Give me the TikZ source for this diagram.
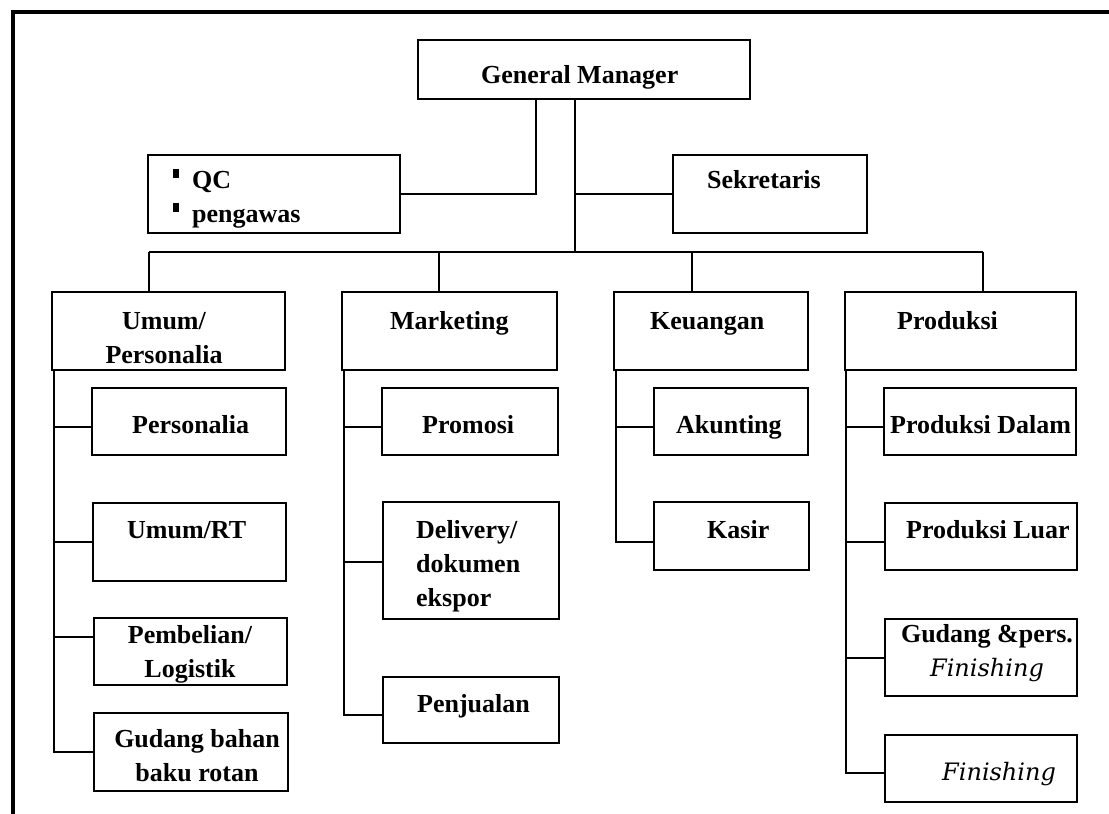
\documentclass[tikz,border=0pt]{standalone}
\usepackage{fontspec}
\setmainfont{Liberation Serif}
\newfontfamily\finfont{DejaVu Serif}
\usepackage{graphicx}
\usetikzlibrary{calc}
\tikzset{
  box/.style={draw, line width=1.8pt, rectangle, inner sep=0pt, outer sep=0pt},
  conn/.style={line width=1.5pt},
  frame/.style={line width=3.5pt},
  txt/.style={anchor=base west, inner sep=0pt, font=\fontsize{26}{34}\selectfont\bfseries},
  ctxt/.style={anchor=base, inner sep=0pt, font=\fontsize{26}{34}\selectfont\bfseries},
  itxt/.style={anchor=base west, inner sep=0pt, font=\fontsize{24}{34}\selectfont\finfont\itshape},
}
\newcommand\bx[5]{\node[box, minimum width={#4-#2}, minimum height={#5-#3}] (#1) at ({(#2+#4)/2},{(#3+#5)/2}) {};}
\newcommand\qcb{\rule[10pt]{6pt}{9pt}\hspace{13pt}}
\begin{document}
\begin{tikzpicture}[x=1pt,y=-1pt]
\useasboundingbox (0,0) rectangle (1109,814);
\fill[white] (0,0) rectangle (1109,814);
\draw[frame] (13,814) -- (13,12) -- (1109,12);
% boxes
\bx{gm}{418}{40}{750}{99}
\bx{qc}{148}{155}{400}{233}
\bx{sek}{673}{155}{867}{233}
\bx{umum}{52}{292}{285}{370}
\bx{mkt}{342}{292}{557}{370}
\bx{keu}{614}{292}{808}{370}
\bx{prod}{845}{292}{1076}{370}
\bx{pers}{92}{388}{286}{455}
\bx{umrt}{93}{503}{286}{581}
\bx{pemb}{94}{618}{287}{685}
\bx{gud}{94}{713}{288}{791}
\bx{prom}{382}{388}{558}{455}
\bx{deliv}{383}{502}{559}{619}
\bx{penj}{383}{677}{559}{743}
\bx{akun}{654}{388}{808}{455}
\bx{kasir}{654}{502}{809}{570}
\bx{pdal}{884}{388}{1076}{455}
\bx{pluar}{885}{503}{1077}{570}
\bx{gpf}{885}{619}{1077}{696}
\bx{fin}{885}{735}{1077}{802}
% texts
\node[txt] (gm-t) at (481,83) {General Manager};
\node[txt] (qc-t) at (173,188) {\begin{tabular}[t]{@{}l@{}}\qcb QC\\\qcb pengawas\end{tabular}};
\node[txt] (sek-t) at (707,188) {Sekretaris};
\node[ctxt] (umum-t) at (164,329) {\begin{tabular}[t]{@{}c@{}}Umum/\\Personalia\end{tabular}};
\node[txt] (mkt-t) at (390,329) {Marketing};
\node[txt] (keu-t) at (650,329) {Keuangan};
\node[txt] (prod-t) at (897,329) {Produksi};
\node[txt] (pers-t) at (132,433) {Personalia};
\node[txt] (prom-t) at (422,433) {Promosi};
\node[txt] (akun-t) at (676,433) {Akunting};
\node[txt] (pdal-t) at (890,433) {Produksi Dalam};
\node[txt] (umrt-t) at (127,538) {Umum/RT};
\node[txt] (deliv-t) at (416,538) {\begin{tabular}[t]{@{}l@{}}Delivery/\\dokumen\\ekspor\end{tabular}};
\node[txt] (kasir-t) at (707,538) {Kasir};
\node[txt] (pluar-t) at (906,538) {Produksi Luar};
\node[ctxt] (pemb-t) at (190,643) {\begin{tabular}[t]{@{}c@{}}Pembelian/\\Logistik\end{tabular}};
\node[txt] (penj-t) at (417,712) {Penjualan};
\node[ctxt] (gpf-t) at (987,642) {\begin{tabular}[t]{@{}c@{}}Gudang \&pers.\\{\mdseries\finfont\itshape\fontsize{24}{34}\selectfont Finishing}\end{tabular}};
\node[ctxt] (gud-t) at (197,747) {\begin{tabular}[t]{@{}c@{}}Gudang bahan\\baku rotan\end{tabular}};
\node[itxt] (fin-t) at (942,780) {Finishing};
% connectors
\coordinate (jq) at (536,195);
\draw[conn] (gm.south -| jq) |- (qc.east);
\coordinate (b0) at (575,252);
\draw[conn] (gm.south -| b0) -- (b0);
\draw[conn] (sek.west) -| (b0);
\coordinate (b1) at (149,252);
\coordinate (b2) at (439,252);
\coordinate (b3) at (692,252);
\coordinate (b4) at (983,252);
\draw[conn] (b1) -- (b4);
\draw[conn] (b1) -- (b1 |- umum.north);
\draw[conn] (b2) -- (b2 |- mkt.north);
\draw[conn] (b3) -- (b3 |- keu.north);
\draw[conn] (b4) -- (b4 |- prod.north);
\coordinate (cu) at ([xshift=2pt]umum.south west);
\coordinate (cm) at ([xshift=2pt]mkt.south west);
\coordinate (ck) at ([xshift=2pt]keu.south west);
\coordinate (cp) at ([xshift=1pt]prod.south west);
\draw[conn] ([yshift=-5.5pt]pers.west) -| (cu);
\draw[conn] (umrt.west) -| (cu);
\draw[conn] ([yshift=14.5pt]pemb.west) -| (cu);
\draw[conn] (gud.west) -| (cu);
\draw[conn] ([yshift=-5.5pt]prom.west) -| (cm);
\draw[conn] ([yshift=-1.5pt]deliv.west) -| (cm);
\draw[conn] ([yshift=-5pt]penj.west) -| (cm);
\draw[conn] ([yshift=-5.5pt]akun.west) -| (ck);
\draw[conn] ([yshift=-6pt]kasir.west) -| (ck);
\draw[conn] ([yshift=-5.5pt]pdal.west) -| (cp);
\draw[conn] ([yshift=-5.5pt]pluar.west) -| (cp);
\draw[conn] ([yshift=-0.5pt]gpf.west) -| (cp);
\draw[conn] ([yshift=-4.5pt]fin.west) -| (cp);
\end{tikzpicture}
\end{document}
